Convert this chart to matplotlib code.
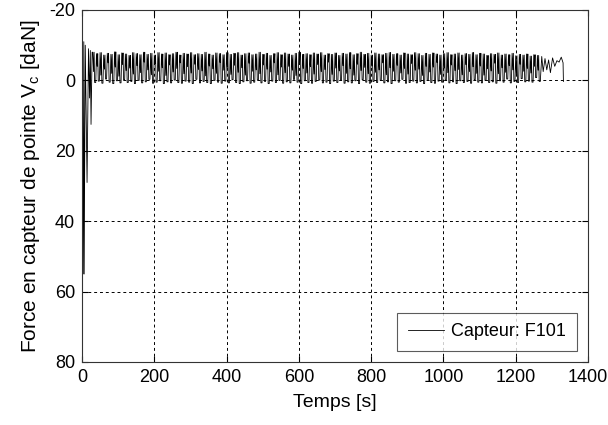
import numpy as np
import matplotlib
matplotlib.use("Agg")
import matplotlib.pyplot as plt

plt.rcParams['font.family'] = ['Liberation Sans', 'DejaVu Sans']
plt.rcParams['axes.unicode_minus'] = False

# --- Data ---
# start-up transient (time [s], force [daN])
trans_t = [0, 1, 3, 5, 6, 9, 14, 18, 21, 23, 25, 28]
trans_v = [0, -12, 55, -11, 55, -10, 29, -9, 5, -8.5, 12.5, -8]

# regular oscillation: per cycle a peak, an inner dip, a second peak and a trough
cycle_start = 30.0
cycle_period = 10.0
tops = [-8.0, -7.6, -7.9, -7.2, -7.7, -7.4, -8.1, -7.3, -7.8, -7.5,
        -7.1, -7.9, -7.6, -7.3, -8.0, -7.4, -7.7, -7.2, -7.9, -7.5,
        -7.8, -7.3, -7.6, -8.0, -7.2, -7.7, -7.5, -7.9, -7.3, -7.6,
        -7.4, -8.0, -7.5, -7.2, -7.8, -7.6, -7.3, -7.9, -7.4, -7.7,
        -7.9, -7.2, -7.6, -7.8, -7.3, -7.5, -8.0, -7.4, -7.7, -7.1,
        -7.6, -7.9, -7.3, -7.8, -7.5, -7.2, -7.7, -8.0, -7.4, -7.6,
        -7.3, -7.8, -7.5, -7.9, -7.2, -7.6, -7.4, -7.8, -7.1, -7.7,
        -7.5, -7.9, -7.3, -7.6, -8.0, -7.4, -7.7, -7.2, -7.8, -7.5,
        -7.3, -7.7, -7.9, -7.4, -7.6, -7.2, -7.8, -7.5, -7.3, -7.9,
        -7.6, -7.1, -7.7, -7.4, -7.8, -7.5, -7.2, -7.6, -7.9, -7.3,
        -7.5, -7.8, -7.2, -7.6, -7.4, -7.9, -7.3, -7.7, -7.5, -7.1,
        -7.6, -7.4, -7.8, -7.2, -7.5, -7.3, -7.7, -7.0, -7.4, -7.2,
        -7.5, -6.9, -7.3, -7.1]
dips = [-2.5, -4.0, -1.5, -3.2, -5.0, -2.0, -3.8, -1.2, -4.5, -2.8,
        -3.5, -1.8, -4.2, -2.2, -5.2, -3.0, -1.6, -4.8, -2.6, -3.6,
        -1.4, -4.4, -2.4, -3.4, -5.0, -1.9, -3.9, -2.1, -4.6, -3.1,
        -2.7, -1.3, -4.1, -3.3, -2.0, -5.1, -2.9, -3.7, -1.7, -4.3,
        -2.3, -3.6, -1.5, -4.9, -2.6, -3.0, -1.9, -4.4, -3.2, -2.4,
        -5.0, -1.6, -3.8, -2.2, -4.0, -2.9, -1.4, -4.7, -3.4, -2.1,
        -3.9, -1.8, -4.5, -2.5, -3.1, -5.2, -1.7, -3.5, -2.7, -4.2,
        -2.0, -3.3, -1.5, -4.6, -2.8, -3.7, -1.9, -4.1, -2.3, -3.0,
        -5.0, -1.6, -3.6, -2.6, -4.3, -2.1, -3.4, -1.8, -4.8, -2.9,
        -3.2, -1.4, -4.0, -2.4, -3.8, -5.1, -1.7, -3.5, -2.2, -4.4,
        -2.8, -3.1, -1.6, -4.5, -2.5, -3.9, -2.0, -4.1, -1.5, -3.3,
        -2.7, -4.9, -1.9, -3.6, -2.3, -4.2, -3.0, -1.8, -4.6, -2.6,
        -3.4, -2.1, -4.0, -2.9]
bottoms = [0.6, 0.2, 0.8, -0.4, 0.5, 0.9, 0.1, 0.7, -0.2, 0.6,
           0.3, 0.9, 0.0, 0.7, 0.4, -0.3, 0.8, 0.5, 0.1, 0.9,
           0.4, 0.7, -0.1, 0.6, 0.8, 0.2, 0.5, 0.9, -0.3, 0.7,
           0.3, 0.6, 0.9, 0.0, 0.5, 0.8, 0.2, 0.7, -0.2, 0.6,
           0.9, 0.4, 0.1, 0.8, 0.5, -0.1, 0.7, 0.3, 0.9, 0.2,
           0.6, 0.0, 0.8, 0.4, 0.7, -0.3, 0.5, 0.9, 0.1, 0.6,
           0.8, 0.3, -0.1, 0.7, 0.5, 0.9, 0.2, 0.6, 0.0, 0.8,
           0.4, 0.7, 0.1, 0.9, -0.2, 0.5, 0.8, 0.3, 0.6, 0.0,
           0.7, 0.4, 0.9, 0.1, 0.5, -0.3, 0.8, 0.6, 0.2, 0.7,
           0.3, 0.9, 0.0, 0.6, 0.8, 0.2, 0.5, -0.1, 0.7, 0.4,
           0.9, 0.1, 0.6, 0.3, 0.8, -0.2, 0.5, 0.7, 0.0, 0.6,
           0.4, 0.8, 0.1, 0.5, -0.4, 0.7, 0.3, 0.6, -0.5, 0.4,
           0.2, 0.5, -0.8, 0.3]

# final sparse part before the recording stops
tail_t = [1272, 1276, 1281, 1286, 1291, 1296, 1302, 1308, 1314, 1320, 1326, 1331, 1332]
tail_v = [-6.8, -2.5, -6.2, -3.0, -5.8, -2.2, -6.4, -4.0, -5.6, -5.2, -6.6, -5.0, 0.3]

# assemble series (cycle sub-steps: peak, dip, peak, trough)
cyc_t = []
cyc_v = []
for i, (tp, dp, bt) in enumerate(zip(tops, dips, bottoms)):
    t0 = cycle_start + i * cycle_period
    cyc_t += [t0, t0 + 2.0, t0 + 3.5, t0 + 5.0, t0 + 8.0]
    cyc_v += [tp, dp, tp, bt, bt]
t = np.array(trans_t + cyc_t + tail_t, dtype=float)
v = np.array(trans_v + cyc_v + tail_v, dtype=float)

W, H = 608, 425
fig = plt.figure(figsize=(W / 100, H / 100), dpi=100)
ax = fig.add_axes([82 / W, (H - 362) / H, (588 - 82) / W, (362 - 10) / H])

ax.plot(t, v, color='black', lw=0.6, label='Capteur: F101')

ax.set_xlim(0, 1400)
ax.set_ylim(80, -20)
ax.set_xticks(np.arange(0, 1401, 200))
ax.set_yticks(np.arange(-20, 81, 20))

ax.grid(True, color='black', linestyle=(0, (3, 3)), linewidth=0.7)
ax.tick_params(direction='in', top=True, right=True, labelsize=13, length=4,
               width=0.8, pad=5)
for s in ax.spines.values():
    s.set_linewidth(0.8)
    s.set_color('#333333')

ax.set_xlabel('Temps [s]', fontsize=14, labelpad=6)
ax.set_ylabel(r'Force en capteur de pointe V$_\mathregular{c}$ [daN]', fontsize=15, labelpad=5)

leg = ax.legend(loc='lower right', fontsize=13, frameon=True, fancybox=False,
                edgecolor='#333333', handlelength=2.0, borderaxespad=0.6,
                borderpad=0.6, handletextpad=0.4)
leg.get_frame().set_linewidth(0.8)

fig.savefig('out.png', dpi=100)
